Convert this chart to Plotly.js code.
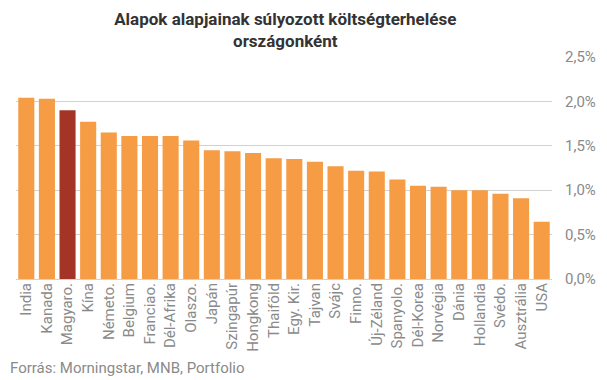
<!DOCTYPE html>
<html><head><meta charset="utf-8">
<script src="https://cdn.plot.ly/plotly-3.0.1.min.js"></script>
<style>html,body{margin:0;padding:0;background:#fff}#c{width:607px;height:380px}</style>
</head><body><div id="c"></div>
<script>
const countries = ["India","Kanada","Magyaro.","Kína","Németo.","Belgium","Franciao.","Dél-Afrika","Olaszo.","Japán","Szingapúr","Hongkong","Thaiföld","Egy. Kir.","Tajvan","Svájc","Finno.","Új-Zéland","Spanyolo.","Dél-Korea","Norvégia","Dánia","Hollandia","Svédo.","Ausztrália","USA"];
const costs = [2.04,2.03,1.90,1.77,1.65,1.61,1.61,1.61,1.56,1.45,1.44,1.42,1.36,1.35,1.32,1.27,1.22,1.21,1.12,1.05,1.04,1.00,1.00,0.96,0.91,0.645];
const highlight = "Magyaro.";
const yTicks = [0,0.5,1,1.5,2,2.5];
const yTickText = ["0,0%","0,5%","1,0%","1,5%","2,0%","2,5%"];

const colors = countries.map(c => c === highlight ? "#A33426" : "#F59C45");
const trace = {type:"bar", x:countries, y:costs, marker:{color:colors}, hoverinfo:"none"};
const layout = {
  width:607, height:380,
  margin:{l:16, r:55, t:57, b:101},
  paper_bgcolor:"#fff", plot_bgcolor:"#fff",
  bargap:0.22,
  font:{family:"Roboto, sans-serif", color:"#808080", size:15},
  title:{text:"<b>Alapok alapjainak súlyozott költségterhelése<br>országonként</b>",
    font:{family:"Roboto, sans-serif", size:17, color:"#333"}, x:0.47, xanchor:"center", yref:"container", y:0.935, yanchor:"middle"},
  xaxis:{tickangle:-90, tickfont:{size:15, color:"#8a8a8a"}, showgrid:false, showline:false, ticks:"", automargin:false},
  yaxis:{side:"right", range:[0,2.5], tickvals:yTicks, ticktext:yTickText, showgrid:true, gridcolor:"#d2d2d2", gridwidth:1,
    zeroline:true, zerolinecolor:"#d2d2d2", zerolinewidth:1, ticks:"", tickfont:{size:15, color:"#8a8a8a"}, ticklabelstandoff:12, automargin:false},
  annotations:[{text:"Forrás: Morningstar, MNB, Portfolio", xref:"paper", yref:"paper", x:-0.015, y:-0.40, xanchor:"left", yanchor:"middle",
    showarrow:false, font:{size:15, color:"#8a8a8a"}}],
  showlegend:false
};
Plotly.newPlot("c",[trace],layout,{staticPlot:true});
</script></body></html>
